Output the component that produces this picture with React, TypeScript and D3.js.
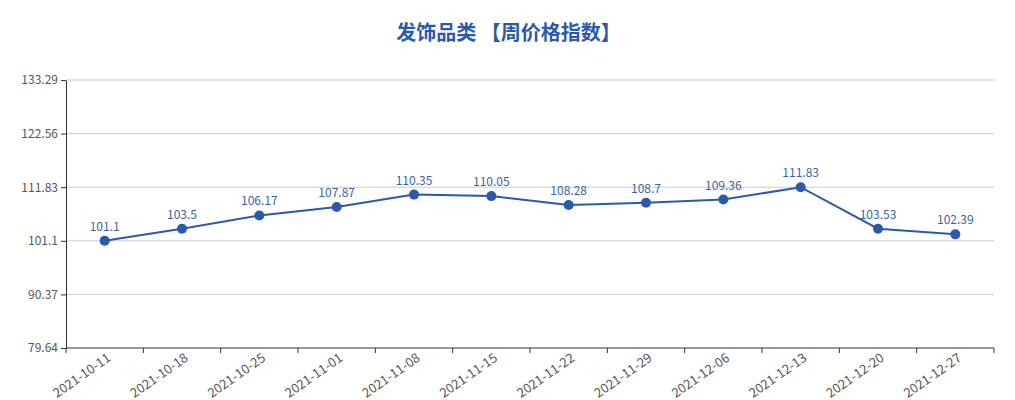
import { useEffect, useRef } from "react";
import * as d3 from "d3";

const dates = [
  "2021-10-11", "2021-10-18", "2021-10-25", "2021-11-01", "2021-11-08", "2021-11-15",
  "2021-11-22", "2021-11-29", "2021-12-06", "2021-12-13", "2021-12-20", "2021-12-27",
];
const values = [101.1, 103.5, 106.17, 107.87, 110.35, 110.05, 108.28, 108.7, 109.36, 111.83, 103.53, 102.39];
const yTicks = [79.64, 90.37, 101.1, 111.83, 122.56, 133.29];

const TITLE = "发饰品类 【周价格指数】";
const BLUE = "#2b5aaa";

export default function App() {
  const svgRef = useRef<SVGSVGElement>(null);

  useEffect(() => {
    if (!svgRef.current) return;
    const svg = d3.select(svgRef.current);
    svg.selectAll("*").remove();

    const W = 1015, H = 400;
    const margin = { top: 80, right: 21, bottom: 52, left: 66 };
    const width = W - margin.left - margin.right;
    const height = H - margin.top - margin.bottom;
    const font = "'Microsoft YaHei', 'Noto Sans CJK SC', 'Noto Sans', sans-serif";

    svg.attr("width", W).attr("height", H);

    svg.append("text")
      .attr("x", W / 2 + 1).attr("y", 40)
      .attr("text-anchor", "middle")
      .attr("font-family", font).attr("font-size", 20).attr("font-weight", "bold")
      .attr("fill", BLUE).text(TITLE);

    const g = svg.append("g").attr("transform", `translate(${margin.left},${margin.top})`);

    const x = d3.scaleBand().domain(dates).range([0, width]);
    const y = d3.scaleLinear().domain([yTicks[0], yTicks[yTicks.length - 1]]).range([height, 0]);

    // Grid
    g.selectAll(".grid")
      .data(yTicks.slice(1))
      .enter().append("line")
      .attr("x1", 0).attr("x2", width)
      .attr("y1", (d) => y(d)).attr("y2", (d) => y(d))
      .attr("stroke", "#cccccc").attr("stroke-width", 1);

    // Y axis
    const yAxis = g.append("g")
      .call(d3.axisLeft(y).tickValues(yTicks).tickFormat((v) => `${+v}`).tickSize(5).tickSizeOuter(0));
    yAxis.select(".domain").attr("stroke", "#333");
    yAxis.selectAll(".tick line").attr("stroke", "#333");
    yAxis.selectAll("text").attr("font-family", font).attr("font-size", 12).attr("fill", "#555");

    // X axis with ticks at band boundaries
    const xg = g.append("g").attr("transform", `translate(0,${height})`);
    xg.append("line").attr("x1", 0).attr("x2", width).attr("stroke", "#333");
    const bounds = [...dates.map((d) => x(d) as number), width];
    xg.selectAll(".xt").data(bounds).enter().append("line")
      .attr("x1", (d) => d).attr("x2", (d) => d)
      .attr("y1", 0).attr("y2", 5).attr("stroke", "#333");
    xg.selectAll(".xl").data(dates).enter().append("text")
      .attr("transform", (d) => `translate(${(x(d) as number) + x.bandwidth() / 2 + 5},${9}) rotate(-35)`)
      .attr("text-anchor", "end")
      .attr("dominant-baseline", "middle")
      .attr("font-family", font).attr("font-size", 13).attr("fill", "#555")
      .text((d) => d);

    const cx = (i: number) => (x(dates[i]) as number) + x.bandwidth() / 2;

    const line = d3.line<number>()
      .x((_, i) => cx(i))
      .y((d) => y(d));

    g.append("path").datum(values)
      .attr("fill", "none").attr("stroke", BLUE).attr("stroke-width", 2)
      .attr("d", line);

    g.selectAll(".pt").data(values).enter().append("circle")
      .attr("cx", (_, i) => cx(i)).attr("cy", (d) => y(d))
      .attr("r", 5).attr("fill", BLUE);

    g.selectAll(".lbl").data(values).enter().append("text")
      .attr("x", (_, i) => cx(i)).attr("y", (d) => y(d) - 10)
      .attr("text-anchor", "middle")
      .attr("font-family", font).attr("font-size", 12).attr("fill", "#3a62a8")
      .text((d) => `${d}`);
  }, []);

  return (
    <div style={{ position: "absolute", left: 0, top: 0, background: "#fff" }}>
      <svg ref={svgRef} style={{ display: "block" }} />
    </div>
  );
}
